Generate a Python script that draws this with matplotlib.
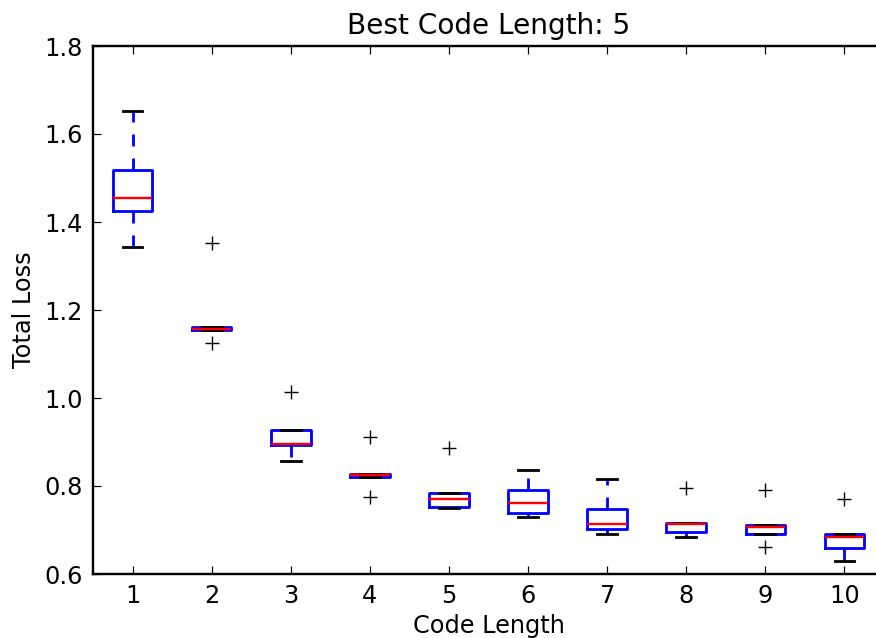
import matplotlib
matplotlib.use("Agg")
import matplotlib.pyplot as plt

plt.rcParams['lines.scale_dashes'] = False
plt.rcParams['font.family'] = ['DejaVu Sans']

code_lengths = [1, 2, 3, 4, 5, 6, 7, 8, 9, 10]
medians = [1.4545, 1.157, 0.8955, 0.8245, 0.771, 0.762, 0.714, 0.714, 0.707, 0.683]
q1s     = [1.425, 1.155, 0.8925, 0.8215, 0.753, 0.739, 0.7015, 0.696, 0.692, 0.658]
q3s     = [1.518, 1.161, 0.927, 0.8275, 0.784, 0.791, 0.748, 0.717, 0.711, 0.692]
whislos = [1.343, 1.155, 0.856, 0.8215, 0.751, 0.729, 0.692, 0.685, 0.692, 0.629]
whishis = [1.653, 1.161, 0.927, 0.8275, 0.784, 0.837, 0.815, 0.717, 0.711, 0.692]
fliers  = [[], [1.352, 1.126], [1.013], [0.912, 0.774], [0.886], [], [], [0.795], [0.792, 0.662], [0.770]]

stats = []
for i in range(len(code_lengths)):
    stats.append(dict(med=medians[i], q1=q1s[i], q3=q3s[i],
                      whislo=whislos[i], whishi=whishis[i], fliers=fliers[i],
                      label=str(code_lengths[i])))

W, H = 876, 638
dpi = 144
fig = plt.figure(figsize=(W / dpi, H / dpi), dpi=dpi)
ax = fig.add_axes([93 / W, (H - 574) / H, (884 - 93) / W, (574 - 46) / H])

ax.bxp(stats, positions=code_lengths, widths=0.5,
       boxprops=dict(color='blue', linewidth=1.4),
       whiskerprops=dict(color='blue', linewidth=1.4, linestyle=(0, (6, 6))),
       capprops=dict(color='black', linewidth=1.4),
       medianprops=dict(color='red', linewidth=1.2),
       flierprops=dict(marker='+', markeredgecolor='black', markersize=7,
                       markeredgewidth=0.7, linestyle='none'),
       showfliers=True)

ax.set_xlim(0.5, 10.5)
ax.set_ylim(0.6, 1.8)
ax.set_yticks([0.6, 0.8, 1.0, 1.2, 1.4, 1.6, 1.8])
ax.set_yticklabels(['0.6', '0.8', '1.0', '1.2', '1.4', '1.6', '1.8'])
ax.set_xticks(code_lengths)
ax.set_xticklabels([str(c) for c in code_lengths])
ax.tick_params(direction='in', top=True, right=True, length=4, width=0.6,
               labelsize=12, pad=5)
for s in ax.spines.values():
    s.set_linewidth(1.2)

ax.set_title('Best Code Length: 5', fontsize=14, pad=6)
ax.set_xlabel('Code Length', fontsize=12, labelpad=3)
ax.set_ylabel('Total Loss', fontsize=12, labelpad=4)

fig.savefig('out.png', dpi=dpi)
